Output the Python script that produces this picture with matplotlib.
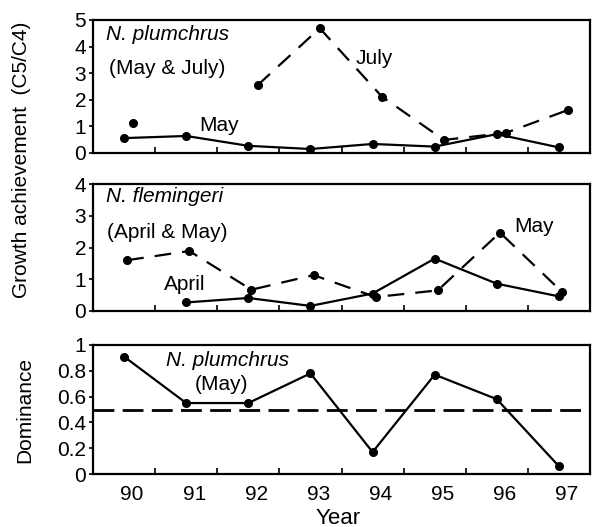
import numpy as np
import matplotlib
matplotlib.use("Agg")
import matplotlib.pyplot as plt

plt.rcParams['font.family'] = ['Liberation Sans', 'DejaVu Sans']

years = ["90", "91", "92", "93", "94", "95", "96", "97"]
plum_may = [0.56, 0.64, 0.27, 0.15, 0.34, 0.24, 0.71, 0.21]
plum_july = [1.14, np.nan, 2.55, 4.69, 2.12, 0.49, 0.76, 1.62]
flem_april = [np.nan, 0.27, 0.41, 0.16, 0.55, 1.65, 0.86, 0.46]
flem_may = [1.60, 1.89, 0.67, 1.13, 0.44, 0.65, 2.47, 0.60]
dominance = [0.91, 0.55, 0.55, 0.78, 0.17, 0.77, 0.58, 0.06]
threshold = 0.5

W, H = 592, 527
fig = plt.figure(figsize=(W / 100, H / 100), dpi=100)

def box(l, t, r, b):
    return [l / W, 1 - b / H, (r - l) / W, (b - t) / H]

ax1 = fig.add_axes(box(93, 20, 590, 153))
ax2 = fig.add_axes(box(93, 184, 590, 311))
ax3 = fig.add_axes(box(93, 345, 590, 474))

x = np.arange(len(years))
fs = 15
lw = 1.6
ms = 5.5
dash = (0, (7.5, 5))

def style(ax, ymax, yticks, ylabels, show_x):
    ax.set_xlim(-0.5, len(years) - 0.5)
    ax.set_ylim(0, ymax)
    ax.set_yticks(yticks)
    ax.set_yticklabels(ylabels, fontsize=fs)
    ax.set_xticks(x[:-1] + 0.5)
    ax.set_xticklabels([])
    ax.tick_params(axis='x', direction='in', length=4, width=1.2)
    ax.tick_params(axis='y', direction='out', length=3, width=1.2, pad=2)
    if show_x:
        ax.set_xticks(x + 0.13, minor=True)
        ax.set_xticklabels(years, minor=True, fontsize=fs)
        ax.tick_params(axis='x', which='minor', length=0, pad=8)
    for s in ax.spines.values():
        s.set_linewidth(1.6)

def label(ax, px, py, s, italic=False, ha='left'):
    ax.text(px / W, 1 - py / H, s, transform=fig.transFigure, fontsize=fs,
            style='italic' if italic else 'normal', va='center', ha=ha)

# Panel 1
ax1.plot(x, plum_may, '-', color='black', lw=lw, marker='o', ms=ms)
ax1.plot(x + 0.15, plum_july, linestyle=dash, color='black', lw=lw, marker='o', ms=ms)
style(ax1, 5, [0, 1, 2, 3, 4, 5], ["0", "1", "2", "3", "4", "5"], False)
label(ax1, 106, 35, "N. plumchrus", italic=True)
label(ax1, 109, 68, "(May & July)")
label(ax1, 199, 126, "May")
label(ax1, 356, 58, "July")

# Panel 2
ax2.plot(x, flem_april, '-', color='black', lw=lw, marker='o', ms=ms)
ax2.plot(x + 0.05, flem_may, linestyle=dash, color='black', lw=lw, marker='o', ms=ms)
style(ax2, 4, [0, 1, 2, 3, 4], ["0", "1", "2", "3", "4"], False)
label(ax2, 106, 197, "N. flemingeri", italic=True)
label(ax2, 107, 233, "(April & May)")
label(ax2, 164, 285, "April")
label(ax2, 514, 227, "May")

# Panel 3
ax3.plot(x, dominance, '-', color='black', lw=lw, marker='o', ms=ms)
ax3.axhline(threshold, color='black', lw=2, linestyle=(0, (7.5, 3)))
style(ax3, 1, [0, 0.2, 0.4, 0.6, 0.8, 1.0], ["0", "0.2", "0.4", "0.6", "0.8", "1"], True)
label(ax3, 228, 360, "N. plumchrus", italic=True, ha='center')
label(ax3, 222, 385, "(May)", ha='center')

fig.text(22 / W, 1 - 160 / H, "Growth achievement  (C5/C4)", rotation=90,
         fontsize=fs, va='center', ha='center')
fig.text(25 / W, 1 - 410 / H, "Dominance", rotation=90, fontsize=fs,
         va='center', ha='center')
fig.text(338 / W, 1 - 518 / H, "Year", fontsize=fs + 1, va='center', ha='center')

fig.savefig("out.png", dpi=100)
